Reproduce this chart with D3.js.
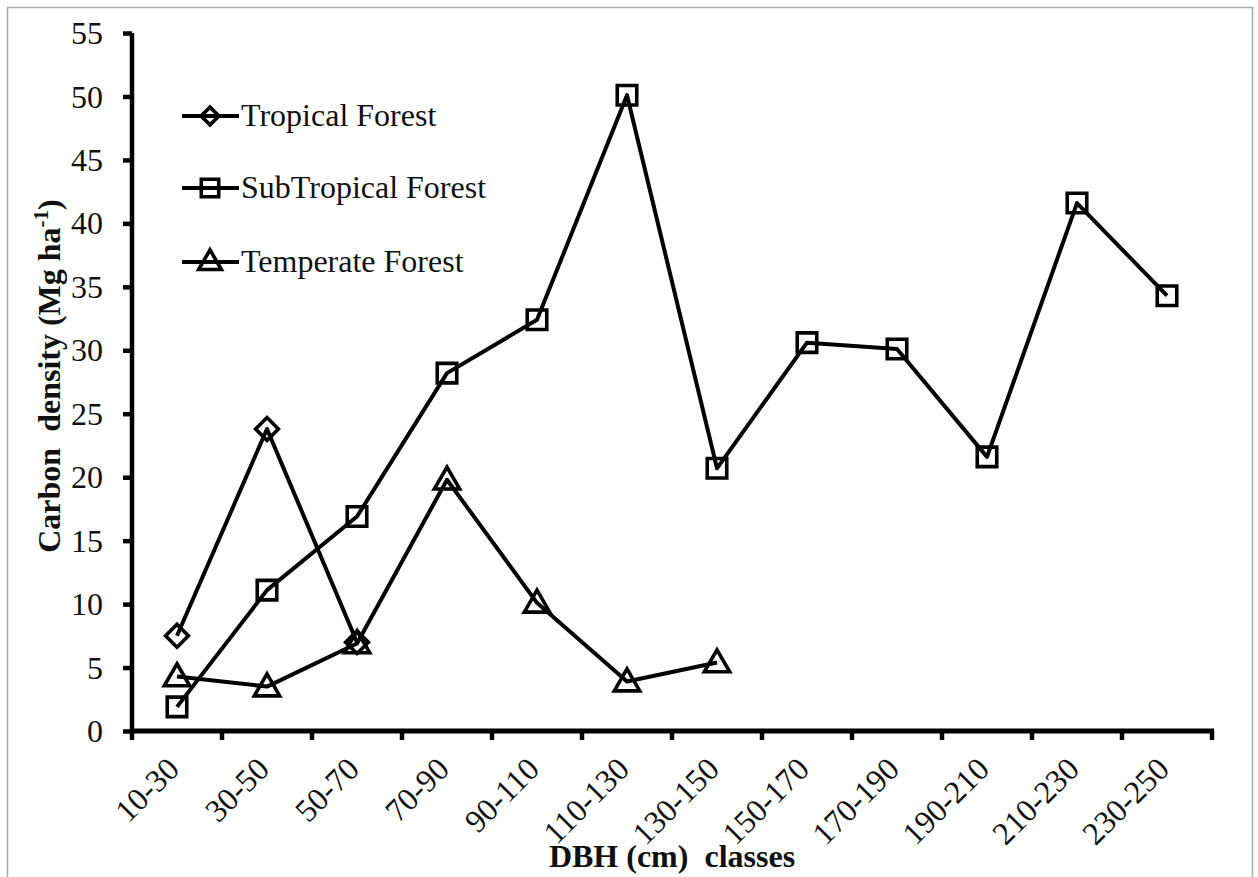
<!DOCTYPE html>
<html>
<head>
<meta charset="utf-8">
<script src="https://cdn.jsdelivr.net/npm/d3@7"></script>
<style>
  html, body { margin: 0; padding: 0; background: #fff; }
  svg { display: block; }
  svg text { font-family: "Liberation Serif", "Times New Roman", Times, serif; fill: #111; }
</style>
</head>
<body>
<svg id="chart" width="1258" height="877"></svg>
<script>
const categories = ["10-30","30-50","50-70","70-90","90-110","110-130","130-150","150-170","170-190","190-210","210-230","230-250"];
const tropical = [7.5, 23.8, 7.0];
const subtropical = [1.9, 11.1, 16.9, 28.2, 32.4, 50.1, 20.7, 30.6, 30.1, 21.6, 41.6, 34.3];
const temperate = [4.3, 3.5, 6.9, 19.8, 10.1, 3.9, 5.4];
const yTicks = [0,5,10,15,20,25,30,35,40,45,50,55];
const seriesNames = ["Tropical Forest", "SubTropical Forest", "Temperate Forest"];

(function () {
const FONT = '"Liberation Serif", "Times New Roman", Times, serif';
const FS = "32px";
const svg = d3.select("#chart");
// outer frame
svg.append("rect").attr("x", 7.5).attr("y", 7.5).attr("width", 1245).attr("height", 875)
  .attr("fill", "none").attr("stroke", "#aaa").attr("stroke-width", 1.5);

const mLeft = 132, mRight = 1212, mTop = 33, mBottom = 731;
const x = d3.scaleBand().domain(categories).range([mLeft, mRight]);
const y = d3.scaleLinear().domain([0, 55]).range([mBottom, mTop]);

// y axis
const yAxis = svg.append("g").attr("transform", `translate(${mLeft},0)`)
  .call(d3.axisLeft(y).tickValues(yTicks).tickSize(9).tickPadding(20));
yAxis.attr("font-family", FONT);
yAxis.select(".domain").attr("stroke", "#000").attr("stroke-width", 4.5)
  .attr("d", `M0,${mTop}V${mBottom + 2}`);
yAxis.selectAll(".tick line").attr("stroke", "#000").attr("stroke-width", 4.5);
yAxis.selectAll(".tick text").style("font-size", FS).attr("fill", "#111").attr("dy", "0.33em");

// x axis
const xTickPos = categories.map(c => x(c)).concat([mRight]);
const xAxisG = svg.append("g");
xAxisG.append("line").attr("x1", mLeft - 2).attr("x2", mRight + 2).attr("y1", mBottom).attr("y2", mBottom)
  .attr("stroke", "#000").attr("stroke-width", 5);
xAxisG.selectAll("line.tk").data(xTickPos).join("line").attr("class", "tk")
  .attr("x1", d => d).attr("x2", d => d).attr("y1", mBottom).attr("y2", mBottom + 9)
  .attr("stroke", "#000").attr("stroke-width", 4.5);
xAxisG.selectAll("text.xl").data(categories).join("text").attr("class", "xl")
  .attr("transform", d => `translate(${x(d) + x.bandwidth() / 2 + 4},${mBottom + 40}) rotate(-45)`)
  .attr("text-anchor", "end").style("font-size", FS).text(d => d);

// titles
svg.append("text").attr("x", (mLeft + mRight) / 2).attr("y", 867).attr("text-anchor", "middle")
  .style("font-size", FS).style("font-weight", "bold").attr("xml:space", "preserve").text("DBH (cm)  classes");
const yt = svg.append("text").attr("transform", `translate(60,${(mTop + mBottom) / 2 - 6}) rotate(-90)`)
  .attr("text-anchor", "middle").style("font-size", FS).style("font-weight", "bold");
yt.append("tspan").text("Carbon  density (Mg ha").attr("xml:space", "preserve");
yt.append("tspan").attr("dy", -12).style("font-size", "21px").text("-1");
yt.append("tspan").attr("dy", 12).text(")");

// series
const cx = i => x(categories[i]) + x.bandwidth() / 2;
const line = d3.line().x((d, i) => cx(i)).y(d => y(d));
const symbols = [d3.symbolSquare, d3.symbolSquare, d3.symbolTriangle];
const symSizes = [260, 380, 280];
const rot = [45, 0, 0];
const dyOff = [0, 0, 2];
const datasets = [tropical, subtropical, temperate];

datasets.forEach((data, k) => {
  svg.append("path").datum(data).attr("d", line)
    .attr("fill", "none").attr("stroke", "#000").attr("stroke-width", 4).attr("stroke-linejoin", "round");
  svg.selectAll(null).data(data).join("path")
    .attr("transform", (d, i) => `translate(${cx(i)},${y(d) + dyOff[k]}) rotate(${rot[k]})`)
    .attr("d", d3.symbol().type(symbols[k]).size(symSizes[k]))
    .attr("fill", "none").attr("stroke", "#000").attr("stroke-width", 3.6);
});

// legend
const legendY = [116, 188, 262];
seriesNames.forEach((name, k) => {
  const g = svg.append("g").attr("transform", `translate(182,${legendY[k]})`);
  g.append("line").attr("x1", 0).attr("x2", 57).attr("y1", 0).attr("y2", 0)
    .attr("stroke", "#000").attr("stroke-width", 4);
  g.append("path").attr("transform", `translate(28,${dyOff[k] / 2}) rotate(${rot[k]})`)
    .attr("d", d3.symbol().type(symbols[k]).size(symSizes[k] * (k === 0 ? 0.6 : 0.8)))
    .attr("fill", "none").attr("stroke", "#000").attr("stroke-width", 3.6);
  g.append("text").attr("x", 59).attr("y", 10).style("font-size", FS).text(name);
});
})();
</script>
</body>
</html>
